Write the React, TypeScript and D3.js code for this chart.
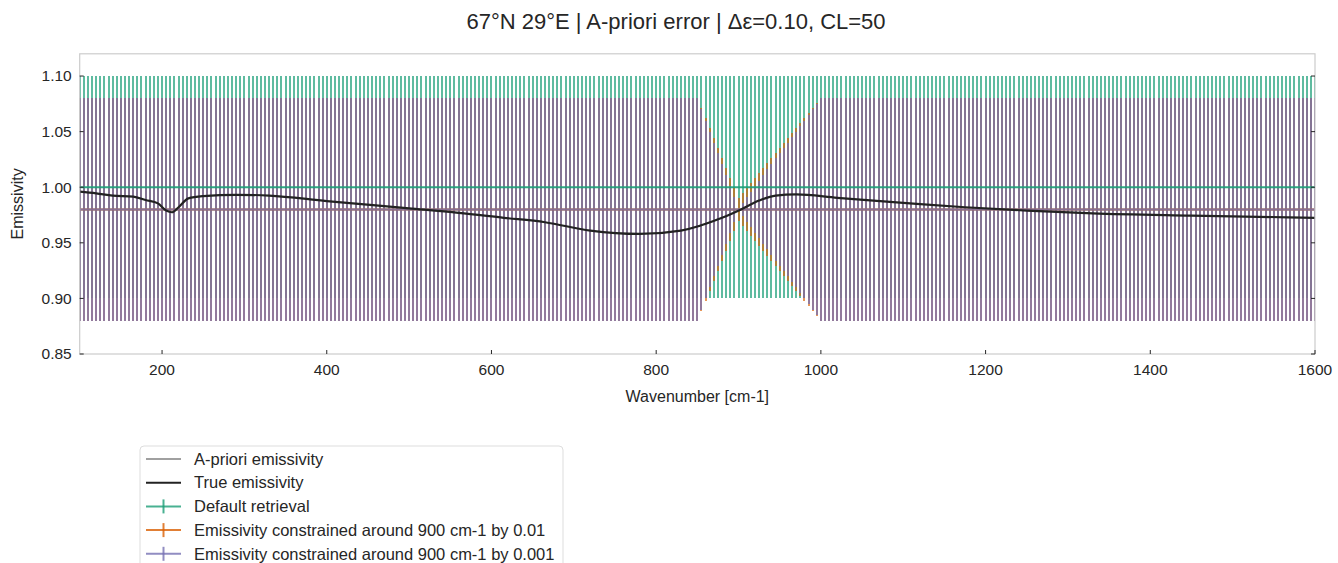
import * as d3 from "d3";

const width = 1338;
const height = 563;
const margin = { left: 79.7, right: 23, top: 53.8, bottom: 209 };

// wavenumber grid of the retrievals (5 cm-1 steps)
const wavenumbers = d3.range(100, 1601, 5);

// true emissivity
const trueWn = [100, 120, 140, 165, 180, 195, 205, 212, 220, 232, 250, 290, 330, 400, 500, 560, 615, 665, 720, 780, 830, 880, 903, 925, 945, 970, 1020, 1100, 1175, 1250, 1330, 1450, 1600];
const trueEm = [0.996, 0.9945, 0.9925, 0.9915, 0.9885, 0.9855, 0.979, 0.9775, 0.982, 0.99, 0.992, 0.9932, 0.9925, 0.9875, 0.981, 0.977, 0.9725, 0.9685, 0.961, 0.958, 0.961, 0.9725, 0.98, 0.988, 0.9925, 0.9935, 0.9905, 0.986, 0.982, 0.979, 0.9765, 0.9745, 0.9725];

const aprioriEm = 0.98;
const defaultEm = 1.0;
const constrainedEm = 0.98;
const baseErr = 0.1;

// errors of the constrained retrievals between 850 and 1000 cm-1
const taperStart = 850;
const orangeTaper = [0.1, 0.091, 0.082, 0.073, 0.064, 0.055, 0.046, 0.037, 0.028, 0.019, 0.01, 0.0145, 0.019, 0.0235, 0.028, 0.0325, 0.037, 0.0415, 0.046, 0.0505, 0.055, 0.0595, 0.064, 0.0685, 0.073, 0.0775, 0.082, 0.0865, 0.091, 0.0955, 0.1];
const purpleTaper = [0.1, 0.09, 0.08, 0.07, 0.06, 0.051, 0.041, 0.031, 0.021, 0.011, 0.001, 0.006, 0.011, 0.016, 0.021, 0.026, 0.031, 0.036, 0.041, 0.046, 0.051, 0.055, 0.06, 0.065, 0.07, 0.075, 0.08, 0.085, 0.09, 0.095, 0.1];

const xTicks = [200, 400, 600, 800, 1000, 1200, 1400, 1600];
const yTicks = [0.85, 0.9, 0.95, 1.0, 1.05, 1.1];

const green = "#1b9e77";
const orange = "#d95f02";
const purple = "#7570b3";
const textColor = "#262626";
const font = "'Liberation Sans', Arial, sans-serif";

const legendItems = [
  { label: "A-priori emissivity", color: "#a0a0a0", bar: false },
  { label: "True emissivity", color: "#222222", bar: false },
  { label: "Default retrieval", color: green, bar: true },
  { label: "Emissivity constrained around 900 cm-1 by 0.01", color: orange, bar: true },
  { label: "Emissivity constrained around 900 cm-1 by 0.001", color: purple, bar: true },
];

const errAt = (taper: number[], wn: number) => {
  const i = (wn - taperStart) / 5;
  return i >= 0 && i < taper.length ? taper[i] : baseErr;
};

export default function App() {
  const x = d3.scaleLinear().domain([100, 1600]).range([margin.left, width - margin.right]);
  const y = d3.scaleLinear().domain([0.85, 1.12]).range([height - margin.bottom, margin.top]);
  const x0 = x.range()[0];
  const x1 = x.range()[1];
  const yb = y.range()[0];
  const yt = y.range()[1];

  const trueLine = d3
    .line<number>()
    .x((_, i) => x(trueWn[i]))
    .y((d) => y(d))
    .curve(d3.curveMonotoneX)(trueEm);

  const bars = (center: number, taper: number[] | null, color: string, op: number) =>
    wavenumbers.map((wn) => {
      const e = taper ? errAt(taper, wn) : baseErr;
      return (
        <line
          key={wn}
          x1={x(wn)}
          x2={x(wn)}
          y1={y(center - e)}
          y2={y(center + e)}
          stroke={color}
          strokeWidth={2}
          strokeOpacity={op}
          shapeRendering="crispEdges"
        />
      );
    });

  const hline = (v: number, color: string, op: number) => (
    <line x1={x0} x2={x1} y1={y(v)} y2={y(v)} stroke={color} strokeWidth={2} strokeOpacity={op} />
  );

  return (
    <svg width={width} height={height} style={{ position: "absolute", left: 0, top: 0, background: "#fff" }} fontFamily={font}>
      <text x={676} y={29} textAnchor="middle" fontSize={22} fill={textColor}>
        67°N 29°E | A-priori error | Δε=0.10, CL=50
      </text>

      <defs>
        <clipPath id="plot">
          <rect x={x0} y={yt} width={x1 - x0} height={yb - yt} />
        </clipPath>
      </defs>

      <g clipPath="url(#plot)">
        {hline(aprioriEm, "#a0a0a0", 1)}
        <g>{bars(defaultEm, null, green, 0.7)}</g>
        <g>{bars(constrainedEm, orangeTaper, orange, 0.65)}</g>
        <g>{bars(constrainedEm, purpleTaper, purple, 0.75)}</g>
        {hline(defaultEm, green, 0.9)}
        {hline(constrainedEm, orange, 0.65)}
        {hline(constrainedEm, purple, 0.75)}
        <path d={trueLine ?? ""} fill="none" stroke="#222" strokeWidth={2.2} />
      </g>

      <rect x={x0} y={yt} width={x1 - x0} height={yb - yt} fill="none" stroke="#cccccc" strokeWidth={1.2} />

      {yTicks.map((t) => (
        <g key={t}>
          <line x1={x0} x2={x0 + 4} y1={y(t)} y2={y(t)} stroke={textColor} strokeWidth={1} />
          <line x1={x1 - 4} x2={x1} y1={y(t)} y2={y(t)} stroke={textColor} strokeWidth={1} />
          <text x={x0 - 8} y={y(t)} dy="0.35em" textAnchor="end" fontSize={15.5} fill={textColor}>
            {t.toFixed(2)}
          </text>
        </g>
      ))}
      {xTicks.map((t) => (
        <g key={t}>
          <line x1={x(t)} x2={x(t)} y1={yb} y2={yb - 4} stroke={textColor} strokeWidth={1} />
          <text x={x(t)} y={375} textAnchor="middle" fontSize={15.5} fill={textColor}>
            {t}
          </text>
        </g>
      ))}

      <text x={(x0 + x1) / 2} y={402} textAnchor="middle" fontSize={16} fill={textColor}>
        Wavenumber [cm-1]
      </text>
      <text transform={`translate(23,${(yt + yb) / 2}) rotate(-90)`} textAnchor="middle" fontSize={16} fill={textColor}>
        Emissivity
      </text>

      <rect x={140} y={446} width={423} height={140} rx={4} fill="#fff" stroke="#dddddd" strokeWidth={1} />
      {legendItems.map((d, i) => {
        const ly = 459 + i * 23.7;
        return (
          <g key={d.label}>
            <line x1={146} x2={181} y1={ly} y2={ly} stroke={d.color} strokeWidth={2} strokeOpacity={d.bar ? 0.8 : 1} />
            {d.bar && (
              <line x1={163.5} x2={163.5} y1={ly - 7} y2={ly + 7} stroke={d.color} strokeWidth={2} strokeOpacity={0.8} />
            )}
            <text x={194} y={ly} dy="0.35em" fontSize={16.5} fill={textColor}>
              {d.label}
            </text>
          </g>
        );
      })}
    </svg>
  );
}
